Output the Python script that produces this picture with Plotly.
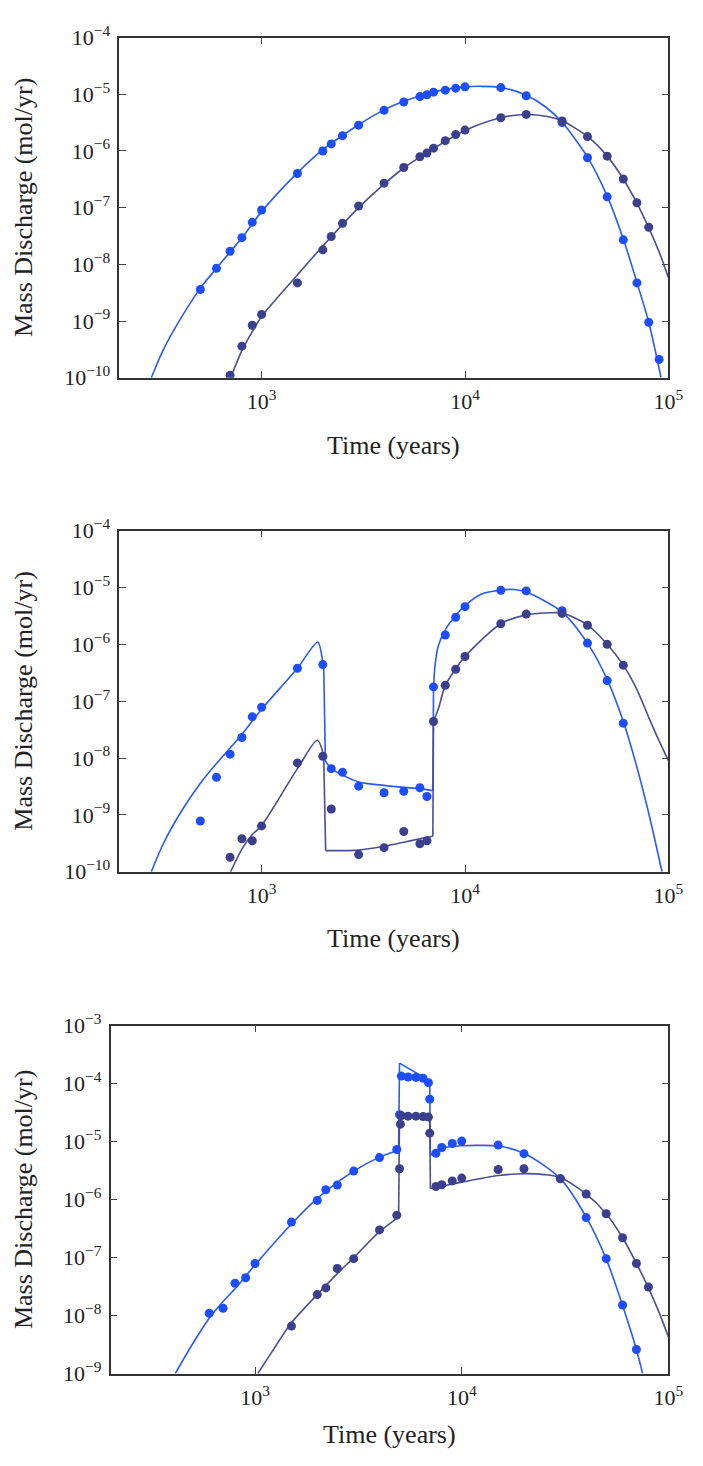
import math
import plotly.graph_objects as go

# ---------------- Panel 1 ----------------
p1_blue_pts_t = [500, 600, 700, 800, 900, 1000, 1500, 2000, 2200, 2500, 3000, 4000, 5000, 6000, 6500,
                 7000, 8000, 9000, 10000, 15000, 20000, 30000, 40000, 50000, 60000, 70000, 80000, 90000]
p1_blue_pts_m = [3.6e-9, 8.5e-9, 1.7e-8, 2.95e-8, 5.5e-8, 9.1e-8, 4.0e-7, 1.0e-6, 1.33e-6, 1.86e-6, 2.85e-6,
                 5.2e-6, 7.3e-6, 9.1e-6, 9.8e-6, 1.09e-5, 1.18e-5, 1.28e-5, 1.35e-5, 1.31e-5, 9.4e-6, 3.17e-6,
                 7.6e-7, 1.55e-7, 2.7e-8, 4.7e-9, 9.5e-10, 2.1e-10]
p1_dark_pts_t = [700, 800, 900, 1000, 1500, 2000, 2200, 2500, 3000, 4000, 5000, 6000, 6500, 7000, 8000,
                 9000, 10000, 15000, 20000, 30000, 40000, 50000, 60000, 70000, 80000]
p1_dark_pts_m = [1.1e-10, 3.6e-10, 8.4e-10, 1.3e-9, 4.7e-9, 1.8e-8, 3.1e-8, 5.3e-8, 1.07e-7, 2.7e-7, 5.1e-7,
                 7.9e-7, 9.2e-7, 1.12e-6, 1.52e-6, 1.94e-6, 2.33e-6, 3.86e-6, 4.41e-6, 3.38e-6, 1.79e-6,
                 8.1e-7, 3.2e-7, 1.22e-7, 4.5e-8]
p1_blue_line_t = [287, 330, 400, 500, 600, 700, 800, 1000, 1500, 2000, 3000, 4000, 5000, 7000, 10000,
                  12000, 15000, 20000, 25000, 30000, 40000, 50000, 60000, 70000, 80000, 92000]
p1_blue_line_m = [1e-10, 3.2e-10, 1.1e-9, 3.8e-9, 8.5e-9, 1.65e-8, 2.9e-8, 8.5e-8, 4.1e-7, 1.05e-6, 2.9e-6,
                  5.3e-6, 7.5e-6, 1.1e-5, 1.35e-5, 1.38e-5, 1.32e-5, 9.6e-6, 5.9e-6, 3.2e-6, 7.8e-7, 1.6e-7,
                  2.8e-8, 4.8e-9, 9.5e-10, 1e-10]
p1_dark_line_t = [705, 800, 900, 1000, 1500, 2000, 3000, 4000, 5000, 7000, 10000, 15000, 20000, 25000,
                  30000, 40000, 50000, 60000, 70000, 80000, 90000, 100000]
p1_dark_line_m = [1e-10, 3.0e-10, 6.5e-10, 1.2e-9, 6.5e-9, 2.1e-8, 1.0e-7, 2.6e-7, 5.0e-7, 1.1e-6, 2.3e-6,
                  3.85e-6, 4.4e-6, 4.1e-6, 3.4e-6, 1.8e-6, 8.1e-7, 3.2e-7, 1.2e-7, 4.4e-8, 1.66e-8, 5.8e-9]

# ---------------- Panel 2 ----------------
p2_blue_pts_t = [500, 600, 700, 800, 900, 1000, 1500, 2000, 2200, 2500, 3000, 4000, 5000, 6000, 6500,
                 7000, 8000, 9000, 10000, 15000, 20000, 30000, 40000, 50000, 60000]
p2_blue_pts_m = [7.8e-10, 4.6e-9, 1.17e-8, 2.3e-8, 5.3e-8, 7.8e-8, 3.8e-7, 4.4e-7, 6.5e-9, 5.6e-9, 3.2e-9,
                 2.45e-9, 2.6e-9, 3.0e-9, 2.1e-9, 1.78e-7, 1.46e-6, 3.0e-6, 4.6e-6, 8.9e-6, 8.7e-6, 3.9e-6,
                 1.05e-6, 2.3e-7, 4.1e-8]
p2_dark_pts_t = [700, 800, 900, 1000, 1500, 2000, 2200, 3000, 4000, 5000, 6000, 6500, 7000, 8000, 9000,
                 10000, 15000, 20000, 30000, 40000, 50000, 60000]
p2_dark_pts_m = [1.8e-10, 3.8e-10, 3.5e-10, 6.4e-10, 8.2e-9, 1.07e-8, 1.27e-9, 2.0e-10, 2.65e-10, 5.1e-10,
                 3.1e-10, 3.5e-10, 4.4e-8, 1.9e-7, 3.65e-7, 6.1e-7, 2.3e-6, 3.4e-6, 3.5e-6, 2.16e-6, 1.0e-6,
                 4.3e-7]
p2_blue_line_t = [287, 330, 400, 500, 600, 700, 800, 1000, 1500, 1890, 1990, 2020, 2060, 2200, 2500, 3000,
                  4000, 5000, 6000, 6800, 6950, 7000, 7100, 7400, 8000, 9000, 10000, 12000, 15000, 17500,
                  20000, 30000, 40000, 50000, 60000, 70000, 80000, 93000]
p2_blue_line_m = [1e-10, 3.2e-10, 1.1e-9, 3.6e-9, 8e-9, 1.5e-8, 2.6e-8, 7.2e-8, 3.8e-7, 1.1e-6, 5.4e-7,
                  4.0e-7, 8.9e-9, 6.5e-9, 5.0e-9, 3.8e-9, 3.3e-9, 3.05e-9, 2.9e-9, 2.7e-9, 2.7e-9, 1.5e-7,
                  3.8e-7, 9.5e-7, 1.8e-6, 3.2e-6, 4.8e-6, 7.6e-6, 9.0e-6, 9.2e-6, 8.3e-6, 3.7e-6, 1.05e-6,
                  2.4e-7, 4.4e-8, 6.9e-9, 1.07e-9, 1e-10]
p2_dark_line_t = [705, 800, 900, 1000, 1500, 1880, 2020, 2065, 3000, 4000, 5000, 6000, 6950, 7000, 7400,
                  8000, 9000, 10000, 15000, 20000, 27000, 30000, 40000, 50000, 60000, 70000, 80000, 90000,
                  100000]
p2_dark_line_m = [1e-10, 2.5e-10, 4.5e-10, 6.5e-10, 6.5e-9, 2.05e-8, 1.1e-8, 2.35e-10, 2.4e-10, 2.8e-10,
                  3.3e-10, 3.8e-10, 4.2e-10, 4.4e-8, 7.4e-8, 1.9e-7, 3.7e-7, 6.1e-7, 2.3e-6, 3.3e-6,
                  3.6e-6, 3.55e-6, 2.2e-6, 1.0e-6, 4.3e-7, 1.6e-7, 5.2e-8, 2.0e-8, 9e-9]

# ---------------- Panel 3 ----------------
p3_blue_pts_t = [600, 700, 800, 900, 1000, 1500, 2000, 2200, 2500, 3000, 4000, 4850, 5000, 5100, 5500,
                 6000, 6500, 6900, 7000, 7500, 8000, 9000, 10000, 15000, 20000, 30000, 40000, 50000, 60000,
                 70000]
p3_blue_pts_m = [1.1e-8, 1.34e-8, 3.6e-8, 4.5e-8, 7.9e-8, 4.1e-7, 9.7e-7, 1.48e-6, 1.79e-6, 3.1e-6, 5.3e-6,
                 7.3e-6, 2.9e-5, 1.35e-4, 1.3e-4, 1.28e-4, 1.24e-4, 1.04e-4, 5.4e-5, 6.3e-6, 7.9e-6, 9.3e-6,
                 1.02e-5, 8.7e-6, 6.2e-6, 2.3e-6, 4.9e-7, 9.6e-8, 1.52e-8, 2.6e-9]
p3_dark_pts_t = [1500, 2000, 2200, 2500, 3000, 4000, 4850, 5000, 5050, 5100, 5500, 6000, 6500, 6900, 7000,
                 7500, 8000, 9000, 10000, 15000, 20000, 30000, 40000, 50000, 60000, 70000, 80000]
p3_dark_pts_m = [6.6e-9, 2.3e-8, 3.0e-8, 6.5e-8, 9.6e-8, 3.0e-7, 5.4e-7, 3.4e-6, 2.0e-5, 2.8e-5, 2.75e-5,
                 2.75e-5, 2.7e-5, 2.65e-5, 1.4e-5, 1.68e-6, 1.8e-6, 2.1e-6, 2.35e-6, 3.3e-6, 3.4e-6, 2.3e-6,
                 1.25e-6, 5.7e-7, 2.2e-7, 7.9e-8, 3.1e-8]
p3_blue_line_t = [411, 500, 600, 700, 800, 1000, 1500, 2000, 3000, 4000, 4950, 5000, 7000, 7050, 7500,
                  8000, 9000, 10000, 12000, 15000, 20000, 30000, 40000, 50000, 60000, 70000, 75000]
p3_blue_line_m = [1e-9, 3.3e-9, 9e-9, 1.75e-8, 2.9e-8, 7.5e-8, 3.8e-7, 1.05e-6, 3.1e-6, 5.4e-6, 7.2e-6,
                  2.26e-4, 1.12e-4, 5.8e-6, 6.8e-6, 7.6e-6, 8.3e-6, 8.5e-6, 8.6e-6, 8.4e-6, 6.3e-6, 2.3e-6,
                  5.0e-7, 9.5e-8, 1.5e-8, 2.6e-9, 1e-9]
p3_dark_line_t = [1030, 1200, 1500, 2000, 2500, 3000, 4000, 4950, 5000, 7000, 7050, 8000, 10000, 15000,
                  20000, 25000, 30000, 40000, 50000, 60000, 70000, 80000, 90000, 100000]
p3_dark_line_m = [1e-9, 2.3e-9, 7.5e-9, 2.3e-8, 5.3e-8, 1.0e-7, 2.8e-7, 5.0e-7, 2.8e-5, 2.6e-5, 1.55e-6,
                  1.7e-6, 2.0e-6, 2.6e-6, 2.8e-6, 2.7e-6, 2.4e-6, 1.25e-6, 5.7e-7, 2.2e-7, 8e-8, 3e-8,
                  1.15e-8, 4.3e-9]

# times after which a model curve jumps (drawn as straight, unsmoothed segments)
p2_blue_jumps = [2020, 6950]
p2_dark_jumps = [2020, 6950]
p3_blue_jumps = [4950, 5000, 7000]
p3_dark_jumps = [4950, 7000]

BLUE = "#1c4dff"
BLUE_LINE = "#2a5bf5"
DARK = "#3a3f8e"
DARK_LINE = "#4a4f92"
FONT = "Liberation Serif"
W, H = 703, 1466
TICK_SIZE = 22
TITLE_SIZE = 26
X_LO, X_HI = 200, 1e5

panels = [
    dict(blue_pts=(p1_blue_pts_t, p1_blue_pts_m), dark_pts=(p1_dark_pts_t, p1_dark_pts_m),
         blue_line=(p1_blue_line_t, p1_blue_line_m, []), dark_line=(p1_dark_line_t, p1_dark_line_m, []),
         yr=(-10, -4), left=122, top=22, bottom=369, xlab_y=438),
    dict(blue_pts=(p2_blue_pts_t, p2_blue_pts_m), dark_pts=(p2_dark_pts_t, p2_dark_pts_m),
         blue_line=(p2_blue_line_t, p2_blue_line_m, p2_blue_jumps),
         dark_line=(p2_dark_line_t, p2_dark_line_m, p2_dark_jumps),
         yr=(-10, -4), left=122, top=525, bottom=873, xlab_y=941),
    dict(blue_pts=(p3_blue_pts_t, p3_blue_pts_m), dark_pts=(p3_dark_pts_t, p3_dark_pts_m),
         blue_line=(p3_blue_line_t, p3_blue_line_m, p3_blue_jumps),
         dark_line=(p3_dark_line_t, p3_dark_line_m, p3_dark_jumps),
         yr=(-9, -3), left=113, top=1030, bottom=1385, xlab_y=1447),
]
RIGHT = 683
MINOR_LEN = 4.5  # px


def sup(e):
    return "10<sup>" + (("\u2212" + str(-e)) if e < 0 else str(e)) + "</sup>"


def minor_logs(lo, hi):
    """log10 positions of the 2..9 minor ticks inside [lo, hi]."""
    out = []
    for d in range(math.floor(lo), math.ceil(hi)):
        for k in range(2, 10):
            v = math.log10(k) + d
            if lo < v < hi:
                out.append(v)
    return out


def split_segments(t, m, jumps):
    """Split a curve into smooth pieces and straight jump connectors."""
    smooth, straight = [], []
    cur_t, cur_m = [t[0]], [m[0]]
    for i in range(1, len(t)):
        if t[i - 1] in jumps:
            smooth.append((cur_t, cur_m))
            straight.append(([t[i - 1], t[i]], [m[i - 1], m[i]]))
            cur_t, cur_m = [t[i]], [m[i]]
        else:
            cur_t.append(t[i])
            cur_m.append(m[i])
    smooth.append((cur_t, cur_m))
    return smooth, straight


fig = go.Figure()
layout = dict(width=W, height=H, margin=dict(l=0, r=0, t=0, b=0),
              paper_bgcolor="white", plot_bgcolor="white", showlegend=False,
              font=dict(family=FONT, size=TICK_SIZE, color="#222"))
annotations = []
shapes = []

axis_common = dict(type="log", showline=True, linecolor="#333", linewidth=1.5, mirror="allticks",
                   ticks="inside", ticklen=7, tickwidth=1, tickcolor="#444", showgrid=False,
                   zeroline=False, tickfont=dict(family=FONT, size=TICK_SIZE, color="#222"))

for i, p in enumerate(panels, start=1):
    xa = "x" if i == 1 else f"x{i}"
    ya = "y" if i == 1 else f"y{i}"
    for (t, m, jumps), col in [(p["blue_line"], BLUE_LINE), (p["dark_line"], DARK_LINE)]:
        smooth, straight = split_segments(t, m, jumps)
        for st, sm in smooth:
            fig.add_trace(go.Scatter(x=st, y=sm, mode="lines",
                                     line=dict(color=col, width=1.6, shape="spline", smoothing=0.8),
                                     xaxis=xa, yaxis=ya, hoverinfo="skip"))
        for st, sm in straight:
            fig.add_trace(go.Scatter(x=st, y=sm, mode="lines", line=dict(color=col, width=1.6),
                                     xaxis=xa, yaxis=ya, hoverinfo="skip"))
    for (t, m), col in [(p["blue_pts"], BLUE), (p["dark_pts"], DARK)]:
        fig.add_trace(go.Scatter(x=t, y=m, mode="markers", marker=dict(color=col, size=9),
                                 xaxis=xa, yaxis=ya))

    xdom = [p["left"] / W, RIGHT / W]
    ydom = [1 - p["bottom"] / H, 1 - p["top"] / H]
    xkey = "xaxis" if i == 1 else f"xaxis{i}"
    ykey = "yaxis" if i == 1 else f"yaxis{i}"
    xlog = [math.log10(X_LO), math.log10(X_HI)]
    layout[xkey] = dict(axis_common, domain=xdom, anchor=ya, range=xlog,
                        tickmode="array", tickvals=[1e3, 1e4, 1e5], ticktext=[sup(3), sup(4), sup(5)],
                        ticklabelstandoff=3)
    lo, hi = p["yr"]
    layout[ykey] = dict(axis_common, domain=ydom, anchor=xa, range=[lo, hi],
                        tickmode="array", tickvals=[10.0 ** e for e in range(lo, hi + 1)],
                        ticktext=[sup(e) for e in range(lo, hi + 1)], ticklabelstandoff=3)

    # minor ticks on all four sides, pointing inward
    ph = p["bottom"] - p["top"]
    pw = RIGHT - p["left"]
    tick = dict(color="#444", width=1)
    for v in minor_logs(*xlog):
        for y0, y1 in [(0, MINOR_LEN / ph), (1, 1 - MINOR_LEN / ph)]:
            shapes.append(dict(type="line", xref=xa, yref=f"{ya} domain", x0=v, x1=v,
                               y0=y0, y1=y1, line=tick, layer="above"))
    for v in minor_logs(lo, hi):
        for x0, x1 in [(0, MINOR_LEN / pw), (1, 1 - MINOR_LEN / pw)]:
            shapes.append(dict(type="line", xref=f"{xa} domain", yref=ya, x0=x0, x1=x1,
                               y0=v, y1=v, line=tick, layer="above"))

    annotations.append(dict(text="Time (years)", xref="paper", yref="paper",
                            x=(p["left"] + RIGHT) / 2 / W, y=1 - p["xlab_y"] / H,
                            xanchor="center", yanchor="middle", showarrow=False,
                            font=dict(family=FONT, size=TITLE_SIZE, color="#222")))
    annotations.append(dict(text="Mass Discharge (mol/yr)", xref="paper", yref="paper",
                            x=24 / W, y=1 - (p["top"] + p["bottom"]) / 2 / H, textangle=-90,
                            xanchor="center", yanchor="middle", showarrow=False,
                            font=dict(family=FONT, size=TITLE_SIZE, color="#222")))

layout["annotations"] = annotations
layout["shapes"] = shapes
fig.update_layout(**layout)
fig.write_html("out.html")
